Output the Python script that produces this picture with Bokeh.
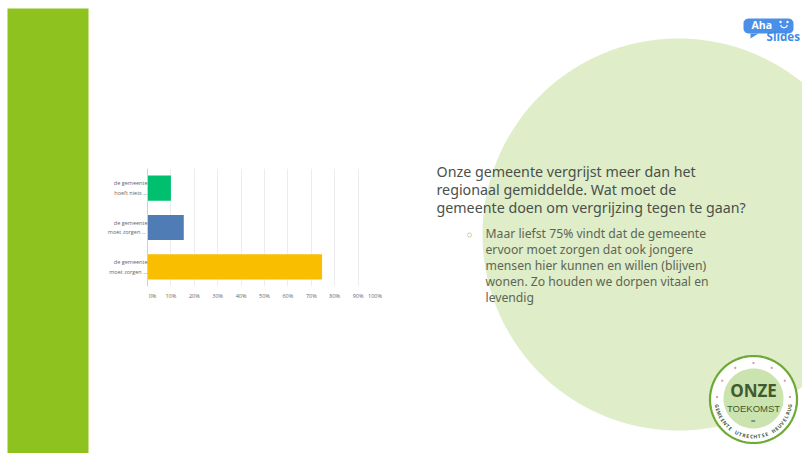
import numpy as np
from bokeh.plotting import figure
from bokeh.models import FixedTicker, Range1d, FactorRange
from bokeh.layouts import column
from bokeh.core.properties import value
from bokeh.embed import file_html
from bokeh.resources import INLINE

categories = ["de gemeente\nmoet zorgen ...", "de gemeente\nmoet zorgen ... ", "de gemeente\nhoeft niets ..."]
values = [74.6, 15.5, 10.0]
bar_colors = ["#F9BE00", "#507CB6", "#00BF6F"]
ticks = [0, 10, 20, 30, 40, 50, 60, 70, 80, 90, 100]
tick_labels = ["\u00a0\u00a0\u00a0\u00a0\u00a0\u00a0\u00a00%", "10%", "20%", "30%", "40%", "50%", "60%", "70%", "80%", "90%",
               "100%\u00a0\u00a0\u00a0\u00a0\u00a0\u00a0\u00a0\u00a0\u00a0"]
title_lines = ["Onze gemeente vergrijst meer dan het", "regionaal gemiddelde. Wat moet de",
               "gemeente doen om vergrijzing tegen te gaan?"]
body_lines = ["Maar liefst 75% vindt dat de gemeente", "ervoor moet zorgen dat ook jongere",
              "mensen hier kunnen en willen (blijven)", "wonen. Zo houden we dorpen vitaal en", "levendig"]

W, H = 802, 453
L, R, T, B = 147, 381, 168, 286

# decoration layer
bg = figure(width=W, height=H, output_backend="svg", toolbar_location=None,
            x_range=Range1d(0, W), y_range=Range1d(H, 0), x_axis_type=None, y_axis_type=None,
            min_border=0, margin=0, frame_align=False)
bg.grid.visible = False
bg.outline_line_color = None


def poly(xs, ys, fill, line=None, lw=0):
    bg.patch(list(xs), list(ys), fill_color=fill, fill_alpha=1 if fill else 0, line_color=line, line_width=lw,
             line_alpha=1 if line else 0)


def ellipse(cx, cy, rx, ry, fill, line=None, lw=0):
    th = np.linspace(0, 2*np.pi, 180, endpoint=False)
    poly(cx+rx*np.cos(th), cy+ry*np.sin(th), fill, line, lw)


def text(x, y, s, size, color, font="Open Sans", style="normal", align="left", angle=0.0):
    bg.text([x], [y], text=[s], text_font=value(font), text_font_size=value(f"{size}px"), text_color=color,
            text_font_style=style, text_align=align, text_baseline="middle", angle=angle)


ellipse(678, 234, 196, 196, "#DFEDC8")
poly([7, 88, 88, 7], [8, 8, 453, 453], "#8DC21F")

for i, s in enumerate(title_lines):
    text(436, 171+18.1*i, s, 14.25, "#4A504A", font="Noto Sans")
ellipse(469, 234.5, 2, 2, None, "#B5D58A", 1)
for i, s in enumerate(body_lines):
    text(485, 232.5+16.1*i, s, 12.2, "#5C6656", font="Noto Sans")

# Aha logo
th = np.linspace(0, np.pi/2, 8)
xs, ys = [], []
for (ax0, ay0, a) in [(788, 28, 0), (748, 28, np.pi/2), (748, 23, np.pi), (788, 23, 1.5*np.pi)]:
    xs += list(ax0+5*np.cos(th+a)); ys += list(ay0+5*np.sin(th+a))
poly(xs, ys, "#4A90E8")
poly([750, 758, 750], [33, 33, 38], "#4A90E8")
text(751, 24.5, "Aha", 10.5, "white", style="bold")
ellipse(780, 21.5, 1.2, 1.2, "white")
ellipse(787, 21.5, 1.2, 1.2, "white")
sm = np.linspace(0, np.pi, 10)
bg.line(783.5+3.2*np.cos(sm), 24.5+2.6*np.sin(sm), line_color="white", line_width=1.2)
text(766, 36, "Slides", 11.6, "#3D8BE8", style="bold")

# Onze Toekomst badge
bx, by = 753, 399
ellipse(bx, by, 43.5, 43.5, "white", "#6CA935", 2.2)
ellipse(bx, by-1, 30, 30, "#CBE3AE")
for a in np.radians([-176, -149, -120, -90, -60, -31, -4]):
    ellipse(bx+36.5*np.cos(a), by+36.5*np.sin(a), 1.1, 1.1, "#D89AA0")
text(bx, by-9, "ONZE", 17, "#3F5A2E", style="bold", align="center")
text(bx, by+9, "TOEKOMST", 9.5, "#3F5A2E", font="Liberation Sans", align="center")
text(bx, by+21, "\u25b8\u25b8", 4, "#3F5A2E", font="DejaVu Sans", align="center")
arc = "GEMEENTE UTRECHTSE HEUVELRUG"
angs = np.radians(np.linspace(170, 10, len(arc)))
for ch, a in zip(arc, angs):
    text(bx+37*np.cos(a), by+37*np.sin(a), ch, 5, "#46573A", style="bold", align="center",
         angle=-float(a-np.pi/2))

# chart layer
p = figure(width=W, height=H, output_backend="svg", toolbar_location=None,
           x_range=Range1d(0, 100), y_range=FactorRange(factors=categories),
           min_border_left=L, min_border_right=W-R, min_border_top=T, min_border_bottom=H-B,
           margin=(-H, 0, 0, 0), frame_align=False)
p.background_fill_color = None
p.border_fill_color = None
p.outline_line_color = None
p.hbar(y=categories, right=values, height=0.64, color=bar_colors, line_color=None)
p.xgrid.ticker = FixedTicker(ticks=ticks)
p.xgrid.grid_line_color = "#ececec"
p.ygrid.grid_line_color = None
ax = p.xaxis[0]
ax.ticker = FixedTicker(ticks=ticks)
ax.major_label_overrides = dict(zip(ticks, tick_labels))
ax.major_label_text_font = "Open Sans"
ax.major_label_text_font_size = "5.5px"
ax.major_label_text_color = "#666666"
ax.major_label_standoff = 5
ax.axis_line_color = None
ax.major_tick_out = 0
ax.major_tick_in = 0
ax.minor_tick_out = 0
ax.minor_tick_in = 0
ay = p.yaxis[0]
ay.major_label_text_font = "Open Sans"
ay.major_label_text_font_size = "5.5px"
ay.major_label_text_color = "#666666"
ay.major_label_standoff = 0
ay.axis_line_color = "#d0d0d0"
ay.major_tick_out = 0
ay.major_tick_in = 0
ay.minor_tick_out = 0
ay.minor_tick_in = 0

page = column(bg, p, margin=0, spacing=0)
open("out.html", "w").write(file_html(page, INLINE))
